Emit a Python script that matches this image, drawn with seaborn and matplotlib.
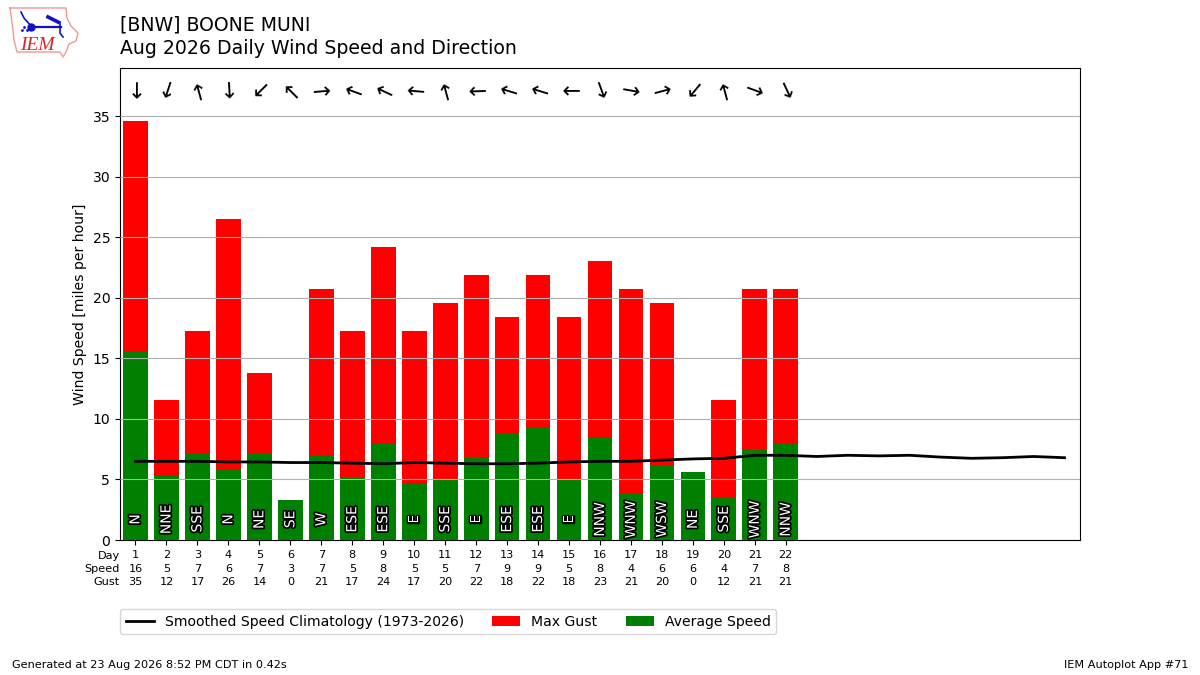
import matplotlib
matplotlib.use("Agg")
import matplotlib.pyplot as plt
import matplotlib.patheffects as PathEffects
from matplotlib.lines import Line2D
import seaborn as sns

plt.rcParams["font.size"] = 10.1

days = list(range(1, 23))
avg_speed = [15.5, 5.3, 7.1, 5.8, 7.1, 3.3, 7.0, 5.1, 8.0, 4.7, 5.0,
             6.85, 8.8, 9.3, 5.0, 8.5, 3.9, 6.2, 5.6, 3.55, 7.4, 8.0]
max_gust = [34.6, 11.6, 17.3, 26.5, 13.8, 0, 20.7, 17.3, 24.2, 17.3, 19.6,
            21.9, 18.4, 21.9, 18.4, 23.05, 20.7, 19.6, 0, 11.6, 20.7, 20.7]
wind_dir = [0, 18, 165, 357, 45, 135, 265, 110, 115, 95, 165,
            88, 107, 107, 90, 340, 280, 255, 40, 165, 290, 335]
wind_txt = ["N", "NNE", "SSE", "N", "NE", "SE", "W", "ESE", "ESE", "E", "SSE",
            "E", "ESE", "ESE", "E", "NNW", "WNW", "WSW", "NE", "SSE", "WNW", "NNW"]
speed_lbl = [16, 5, 7, 6, 7, 3, 7, 5, 8, 5, 5, 7, 9, 9, 5, 8, 4, 6, 6, 4, 7, 8]
gust_lbl = [35, 12, 17, 26, 14, 0, 21, 17, 24, 17, 20, 22, 18, 22, 18, 23, 21, 20, 0, 12, 21, 21]

clim_days = list(range(1, 32))
clim_speed = [6.5, 6.5, 6.5, 6.45, 6.45, 6.4, 6.4, 6.35, 6.3, 6.4, 6.35,
              6.3, 6.3, 6.35, 6.45, 6.5, 6.5, 6.6, 6.7, 6.75, 7.0, 7.0,
              6.9, 7.0, 6.95, 7.0, 6.85, 6.75, 6.8, 6.9, 6.8]

fig = plt.figure(figsize=(12, 6.75), dpi=100)
ax = fig.add_axes([120 / 1200, 1 - 540 / 675, 960 / 1200, 472 / 675])

sns.barplot(x=days, y=max_gust, color="red", saturation=1, width=0.8,
            native_scale=True, label="Max Gust", ax=ax)
sns.barplot(x=days, y=avg_speed, color="green", saturation=1, width=0.8,
            native_scale=True, label="Average Speed", ax=ax)
sns.lineplot(x=clim_days, y=clim_speed, color="k", lw=2, zorder=4,
             label="Smoothed Speed Climatology (1973-2026)", ax=ax)

ax.set_xlim(0.5, 31.5)
ax.set_ylim(0, 39)
ax.set_yticks(range(0, 36, 5))
ax.grid(True, axis="y", color="#b0b0b0", lw=0.8)
ax.set_axisbelow(False)
ax.set_ylabel("Wind Speed [miles per hour]")
ax.set_xlabel("")
ax.set_xticks(days)
ax.set_xticklabels([f"{d}\n{s}\n{g}" for d, s, g in zip(days, speed_lbl, gust_lbl)],
                   fontsize=8.15, linespacing=1.4)
ax.tick_params(axis="x", pad=4)

trans = ax.get_xaxis_transform()
ax.text(0.5, -0.023, "Day\nSpeed\nGust", transform=trans, ha="right", va="top",
        multialignment="right", fontsize=8.15, linespacing=1.4)

# direction labels and arrows
for d, txt, deg in zip(days, wind_txt, wind_dir):
    ax.text(d, 1.7, txt, rotation=90, ha="center", va="center", color="white",
            fontsize=10, zorder=5,
            path_effects=[PathEffects.withStroke(linewidth=2.5, foreground="k")])
    ax.text(d, 37.17, "→", rotation=270 - deg, rotation_mode="anchor", ha="center",
            va="center_baseline", fontsize=16, zorder=5)

# keep the line first in the legend, as the handles come out that way
handles, labels = ax.get_legend_handles_labels()
order = [labels.index("Smoothed Speed Climatology (1973-2026)"),
         labels.index("Max Gust"), labels.index("Average Speed")]
ax.legend([handles[i] for i in order], [labels[i] for i in order], ncol=3,
          loc="upper left", bbox_to_anchor=(120 / 1200, 1 - 609 / 675),
          bbox_transform=fig.transFigure, borderaxespad=0)

fig.text(120 / 1200, 1 - 25 / 675, "[BNW] BOONE MUNI", fontsize=13.6, va="center")
fig.text(120 / 1200, 1 - 48 / 675, "Aug 2026 Daily Wind Speed and Direction",
         fontsize=13.6, va="center")
fig.text(12 / 1200, 1 - 665 / 675, "Generated at 23 Aug 2026 8:52 PM CDT in 0.42s",
         fontsize=8.12, va="center")
fig.text(1188 / 1200, 1 - 665 / 675, "IEM Autoplot App #71", fontsize=8.12,
         ha="right", va="center")

# logo, drawn in pixel coordinates of its own small axes
logo = fig.add_axes([0, 1 - 65 / 675, 90 / 1200, 65 / 675])
logo.set_xlim(0, 90)
logo.set_ylim(65, 0)
logo.axis("off")
logo.add_line(Line2D([10, 66, 67, 71, 78, 76, 69, 66, 63, 60, 17, 14, 12, 10],
                     [8, 8, 18, 26, 33, 41, 44, 52, 57, 52, 52, 40, 22, 8],
                     color="#ee9999", lw=1))
logo.add_line(Line2D([31, 61], [27, 27], color="#1111cc", lw=1.6))
logo.add_line(Line2D([31, 24, 21], [26, 18, 12], color="#1111cc", lw=1.2))
logo.add_line(Line2D([48, 58], [17, 22], color="#1111cc", lw=2.6))
logo.add_line(Line2D([60, 60, 63], [22, 33, 37], color="#1111cc", lw=1.2))
logo.add_line(Line2D([31], [27], color="#1111cc", marker="o", ms=5))
logo.add_line(Line2D([24, 27, 22], [27, 30, 30], color="#1111cc", ls="", marker=".", ms=2))
logo.text(37, 45, "IEM", family="Liberation Serif", style="italic", color="#dd2222",
          fontsize=14, ha="center", va="center")

fig.savefig("out.png", dpi=100)
